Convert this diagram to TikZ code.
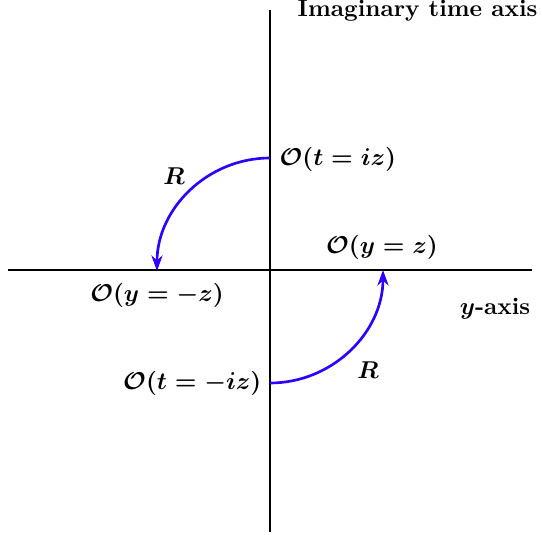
\documentclass[tikz,border=0pt]{standalone}
\usepackage{amsmath,bm}
\usetikzlibrary{arrows.meta}
\definecolor{arcblue}{RGB}{45,0,255}
\begin{document}
\begin{tikzpicture}[x=0.45pt,y=0.45pt,
  axisline/.style={line width=0.55pt,black},
  arcline/.style={line width=1.2pt,arcblue,-{Stealth[length=7pt,width=5pt]}},
  lbl/.style={inner sep=1pt,font=\fontsize{10.7}{13}\selectfont\bfseries\boldmath}]
\useasboundingbox (-270,-265) rectangle (272,270);
\coordinate (top) at (0,260);
\coordinate (bot) at (0,-262);
\coordinate (left) at (-262,0);
\coordinate (right) at (262,0);
\coordinate (tpos) at (0,112);
\coordinate (yneg) at (-113,0);
\coordinate (tneg) at (0,-113);
\coordinate (ypos) at (113,0);
\draw[axisline] (bot) -- (top);
\draw[axisline] (left) -- (right);
\draw[arcline] (tpos) arc[start angle=90,end angle=180,radius=113];
\draw[arcline] (tneg) arc[start angle=-90,end angle=0,radius=113];
\node[lbl,anchor=west] (ita) at (25,259) {Imaginary time axis};
\node[lbl,anchor=west] (ot1) at (7,111) {$\mathcal{O}(t=iz)$};
\node[lbl] (r1) at (-96,94) {$R$};
\node[lbl] (oy1) at (-113,-25) {$\mathcal{O}(y=-z)$};
\node[lbl] (oy2) at (112,23) {$\mathcal{O}(y=z)$};
\node[lbl] (ya) at (225,-39) {$y$-axis};
\node[lbl,anchor=east] (ot2) at (-6,-113) {$\mathcal{O}(t=-iz)$};
\node[lbl] (r2) at (98,-100) {$R$};
\end{tikzpicture}
\end{document}
